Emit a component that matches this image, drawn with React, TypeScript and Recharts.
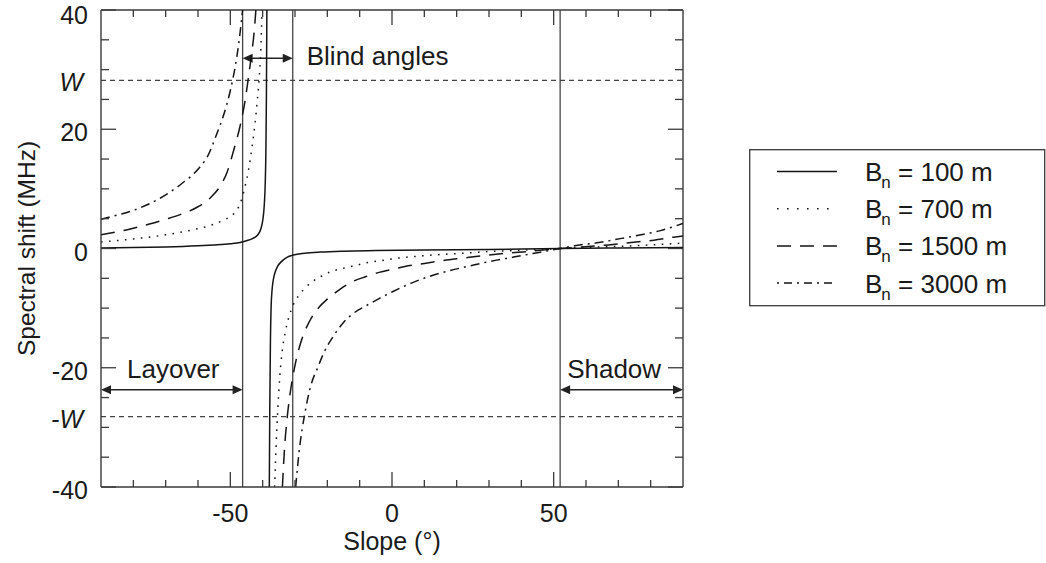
import React from 'react';
import { LineChart, Line, XAxis, YAxis, ReferenceLine, Legend } from 'recharts';

// Spectral shift vs. terrain slope for four normal baselines.
// Each series has a left and a right branch around the singular slope; a null splits them.

const W = 28.2; // half bandwidth marker

const BASELINE_LABELS = ['100 m', '700 m', '1500 m', '3000 m'];

const slope100 = [-90, -80, -70, -60, -55, -50, -47, -45, -43, -41.5, -40.5, -39.9, -39.5, -39.2, -39.0, -38.85, -38.7, -38.3,
  -37.95, -37.8, -37.6, -37.4, -37.1, -36.7, -36.1, -35.3, -34.2, -32.5, -30.5, -27, -22, -15, -5, 10, 30, 52, 70, 90];
const shift100 = [0.1, 0.15, 0.25, 0.45, 0.6, 0.8, 1.0, 1.3, 1.7, 2.3, 3.4, 5.0, 7.3, 11.0, 16.5, 25.0, 40, null,
  -40, -27, -15.5, -10.0, -7.0, -5.2, -3.9, -2.9, -2.2, -1.5, -1.1, -0.8, -0.6, -0.45, -0.35, -0.25, -0.15, 0, 0.08, 0.15];

const slope700 = [-90, -80, -70, -62, -56, -52, -49, -47, -45.5, -44.3, -43.3, -42.4, -41.7, -41.1, -40.6, -40.2, -38.3,
  -36.3, -35.8, -35.3, -34.7, -34, -33, -32, -30.5, -29, -27, -25, -22, -19, -15, -11, -7, -3, 2, 8, 15, 22, 30, 40, 52, 60, 70, 80, 90];
const shift700 = [1.1, 1.6, 2.3, 3.1, 3.9, 4.8, 5.8, 7.5, 10.3, 13.4, 17.0, 20.8, 24.6, 28.4, 33.0, 40, null,
  -40, -32.5, -26.8, -21.5, -17.4, -14.0, -11.7, -9.4, -8.0, -6.7, -5.7, -4.7, -3.9, -3.3, -2.8, -2.3, -2.0, -1.6, -1.3, -1.0, -0.8, -0.5, -0.3, 0, 0.2, 0.35, 0.6, 0.9];

const slope1500 = [-90, -85, -80, -75, -70, -65, -60, -56, -53, -51, -49, -47, -45.5, -44.5, -43.5, -42.6, -42.1, -38.3,
  -33.9, -33.2, -32.5, -31.5, -30, -28, -25.5, -22.5, -20, -16, -12, -8, -4, 0, 5, 10, 16, 22, 28, 35, 42, 52, 60, 67, 74, 81, 87, 90];
const shift1500 = [2.3, 2.8, 3.4, 4.1, 4.9, 5.8, 7.0, 8.6, 10.6, 12.8, 16.4, 20.5, 24.6, 28.3, 32.3, 36.5, 40, null,
  -40, -33.2, -28.8, -24.3, -19.6, -15.4, -12.2, -9.8, -8.5, -6.8, -5.5, -4.7, -4.0, -3.5, -2.9, -2.5, -2.0, -1.6, -1.2, -0.8, -0.5, 0, 0.3, 0.6, 1.0, 1.4, 1.9, 2.1];

const slope3000 = [-90, -85, -80, -75, -70, -65, -60, -57, -54, -52, -50, -48.5, -47.5, -46.6, -46.2, -38.3,
  -29.8, -28.6, -27, -25, -23, -21, -18, -15, -12, -8, -4, 0, 6, 12, 18, 25, 30, 38, 45, 52, 57, 64, 71, 77, 83, 90];
const shift3000 = [4.9, 5.6, 6.4, 7.5, 9.0, 10.9, 13.3, 15.5, 19.5, 22.5, 26.5, 30.5, 34, 38, 40, null,
  -40, -33.5, -27.8, -22.8, -20.0, -17.4, -14.6, -12.4, -10.9, -9.6, -8.4, -7.3, -5.8, -4.6, -3.7, -2.8, -2.2, -1.4, -0.7, 0, 0.5, 1.0, 1.7, 2.3, 3.0, 4.2];

// Region boundaries (slope, degrees)
const LAYOVER_LIMIT = -46.2;
const BLIND_LIMIT = -30.7;
const SHADOW_LIMIT = 52.0;
const ARROW_TOP = 31.9;
const ARROW_LOW = -23.7;

const X_DOMAIN = [-90, 90];
const Y_DOMAIN = [-40, 40];
const X_TICKS = [-80, -70, -60, -50, -40, -30, -20, -10, 0, 10, 20, 30, 40, 50, 60, 70, 80];
const X_LABELS = [-50, 0, 50];
const Y_TICKS = [-40, -35, -30, -W, -25, -20, -15, -10, -5, 0, 5, 10, 15, 20, 25, W, 30, 35, 40];
const Y_LABELS = [-40, -20, 0, 20, 40];

const toRows = (xs: number[], ys: (number | null)[]) => xs.map((s, i) => ({ slope: s, shift: ys[i] }));

const LINE_COLOR = '#151515';
const AXIS_COLOR = '#3a3a3a';
const TEXT_COLOR = '#1a1a1a';
const FONT = '"Liberation Sans", Arial, Helvetica, sans-serif';

// Chart frame
const CHART_W = 1046;
const CHART_H = 563;
const MARGIN = { top: 10, right: 363, bottom: 36, left: 41 };
const Y_AXIS_W = 60;
const X_AXIS_H = 40;
const PLOT_W = CHART_W - MARGIN.left - MARGIN.right - Y_AXIS_W;
const PLOT_H = CHART_H - MARGIN.top - MARGIN.bottom - X_AXIS_H;

const SERIES = [
  { name: BASELINE_LABELS[0], rows: toRows(slope100, shift100), dash: undefined as string | undefined, legendDash: undefined as string | undefined },
  { name: BASELINE_LABELS[1], rows: toRows(slope700, shift700), dash: '1.6 6.4', legendDash: '1.6 8.4' },
  { name: BASELINE_LABELS[2], rows: toRows(slope1500, shift1500), dash: '14 9', legendDash: '14 9' },
  { name: BASELINE_LABELS[3], rows: toRows(slope3000, shift3000), dash: '9 5 2 5', legendDash: '2 5 8 5' },
];

// Bottom ticks point inward; the same marks are mirrored on the top edge.
const XTick = (p: any) => {
  const { x, y, payload } = p;
  const major = X_LABELS.includes(payload.value);
  const len = major ? 15 : 7;
  const top = y - PLOT_H;
  return (
    <g>
      <line x1={x} x2={x} y1={y} y2={y - len} stroke={AXIS_COLOR} strokeWidth={1.3} />
      <line x1={x} x2={x} y1={top} y2={top + len} stroke={AXIS_COLOR} strokeWidth={1.3} />
      {major && (
        <text x={x} y={y + 35} textAnchor="middle" fontSize={25} fill={TEXT_COLOR} fontFamily={FONT}>
          {payload.value}
        </text>
      )}
    </g>
  );
};

const tickLen = (v: number) => (Y_LABELS.includes(v) ? 15 : Math.abs(v) === W ? 0 : 8);

// Left ticks point inward; mirrored on the right edge.
const YTick = (p: any) => {
  const { x, y, payload } = p;
  const v = payload.value;
  const len = tickLen(v);
  const isW = Math.abs(v) === W;
  const right = x + PLOT_W;
  const dy = v === 40 ? 14 : 12;
  return (
    <g>
      {len > 0 && <line x1={x} x2={x + len} y1={y} y2={y} stroke={AXIS_COLOR} strokeWidth={1.3} />}
      {len > 0 && <line x1={right} x2={right - len} y1={y} y2={y} stroke={AXIS_COLOR} strokeWidth={1.3} />}
      {Y_LABELS.includes(v) && (
        <text x={x - 13} y={y + dy} textAnchor="end" fontSize={25} fill={TEXT_COLOR} fontFamily={FONT}>
          {v}
        </text>
      )}
      {isW && (
        <text x={x - 18} y={y + 11} textAnchor="end" fontSize={25} fill={TEXT_COLOR} fontFamily={FONT} fontStyle="italic">
          {v < 0 ? '-W' : 'W'}
        </text>
      )}
    </g>
  );
};

// Double-headed arrow with a caption placed relative to its ends
const makeArrow = (caption: string, anchor: 'start' | 'end', dx: number, dy: number) => (p: any) => {
  const { x1, y1, x2, y2 } = p;
  const h = 10;
  const w = 4.5;
  const tx = anchor === 'end' ? x2 + dx : x1 + dx;
  return (
    <g>
      <line x1={x1 + h - 1} y1={y1} x2={x2 - h + 1} y2={y2} stroke="#222" strokeWidth={1.4} />
      <polygon points={`${x1},${y1} ${x1 + h},${y1 - w} ${x1 + h},${y1 + w}`} fill="#222" />
      <polygon points={`${x2},${y2} ${x2 - h},${y2 - w} ${x2 - h},${y2 + w}`} fill="#222" />
      <text x={tx} y={y1 + dy} fontSize={26} fill={TEXT_COLOR} fontFamily={FONT}>
        {caption}
      </text>
    </g>
  );
};

const LegendBox = () => (
  <svg width={297} height={158} style={{ display: 'block' }}>
    <rect x={0.7} y={0.7} width={295} height={156} fill="#fff" stroke={AXIS_COLOR} strokeWidth={1.3} />
    {SERIES.map((s, i) => {
      const cy = 22.5 + i * 37.2;
      return (
        <g key={s.name}>
          <line x1={28} x2={88} y1={cy} y2={cy} stroke={LINE_COLOR} strokeWidth={1.5} strokeDasharray={s.legendDash} />
          <text x={116} y={cy + 9.5} fontSize={26} fill={TEXT_COLOR} fontFamily={FONT}>
            B
            <tspan fontSize={17} dx={-1} dy={7}>n</tspan>
            <tspan dy={-7}>{` = ${s.name}`}</tspan>
          </text>
        </g>
      );
    })}
  </svg>
);

export default function App() {
  return (
    <div style={{ position: 'absolute', left: 0, top: 0, width: CHART_W, height: CHART_H, background: '#fff' }}>
      <LineChart width={CHART_W} height={CHART_H} margin={MARGIN}>
        <XAxis
          type="number"
          dataKey="slope"
          domain={X_DOMAIN}
          allowDataOverflow
          ticks={X_TICKS}
          interval={0}
          tickSize={0}
          tickMargin={0}
          tickLine={false}
          tick={XTick}
          axisLine={{ stroke: AXIS_COLOR, strokeWidth: 1.4 }}
          height={X_AXIS_H}
          label={(p: any) => {
            const vb = p.viewBox || {};
            return (
              <text x={vb.x + vb.width / 2} y={vb.y + 63} textAnchor="middle" fontSize={25} fill={TEXT_COLOR} fontFamily={FONT}>
                Slope (°)
              </text>
            );
          }}
        />
        <YAxis
          type="number"
          domain={Y_DOMAIN}
          allowDataOverflow
          ticks={Y_TICKS}
          interval={0}
          tickSize={0}
          tickMargin={0}
          tickLine={false}
          tick={YTick}
          axisLine={{ stroke: AXIS_COLOR, strokeWidth: 1.4 }}
          width={Y_AXIS_W}
          label={(p: any) => {
            const vb = p.viewBox || {};
            const cx = vb.x - 15;
            const cy = vb.y + vb.height / 2;
            return (
              <text
                x={cx}
                y={cy}
                transform={`rotate(-90 ${cx} ${cy})`}
                textAnchor="middle"
                dominantBaseline="central"
                fontSize={24.5}
                fill={TEXT_COLOR}
                fontFamily={FONT}
              >
                Spectral shift (MHz)
              </text>
            );
          }}
        />

        {/* top and right edges of the frame */}
        <ReferenceLine y={Y_DOMAIN[1]} stroke={AXIS_COLOR} strokeWidth={1.4} />
        <ReferenceLine x={X_DOMAIN[1]} stroke={AXIS_COLOR} strokeWidth={1.4} />

        <ReferenceLine y={W} stroke="#444" strokeWidth={1.2} strokeDasharray="5 4" />
        <ReferenceLine y={-W} stroke="#444" strokeWidth={1.2} strokeDasharray="5 4" />
        <ReferenceLine x={LAYOVER_LIMIT} stroke="#444" strokeWidth={1.3} />
        <ReferenceLine x={BLIND_LIMIT} stroke="#444" strokeWidth={1.3} />
        <ReferenceLine x={SHADOW_LIMIT} stroke="#444" strokeWidth={1.3} />

        <ReferenceLine
          segment={[{ x: LAYOVER_LIMIT, y: ARROW_TOP }, { x: BLIND_LIMIT, y: ARROW_TOP }]}
          shape={makeArrow('Blind angles', 'end', 14, 7)}
        />
        <ReferenceLine
          segment={[{ x: X_DOMAIN[0], y: ARROW_LOW }, { x: LAYOVER_LIMIT, y: ARROW_LOW }]}
          shape={makeArrow('Layover', 'start', 26, -12)}
        />
        <ReferenceLine
          segment={[{ x: SHADOW_LIMIT, y: ARROW_LOW }, { x: X_DOMAIN[1], y: ARROW_LOW }]}
          shape={makeArrow('Shadow', 'start', 7, -12)}
        />

        {SERIES.map((s) => (
          <Line
            key={s.name}
            name={`Bn = ${s.name}`}
            data={s.rows}
            dataKey="shift"
            type="monotone"
            stroke={LINE_COLOR}
            strokeWidth={1.5}
            strokeDasharray={s.dash}
            dot={false}
            activeDot={false}
            isAnimationActive={false}
          />
        ))}

        <Legend
          layout="horizontal"
          verticalAlign="middle"
          align="center"
          wrapperStyle={{ left: 749, top: 149, width: 297, height: 158 }}
          content={() => <LegendBox />}
        />
      </LineChart>
    </div>
  );
}
